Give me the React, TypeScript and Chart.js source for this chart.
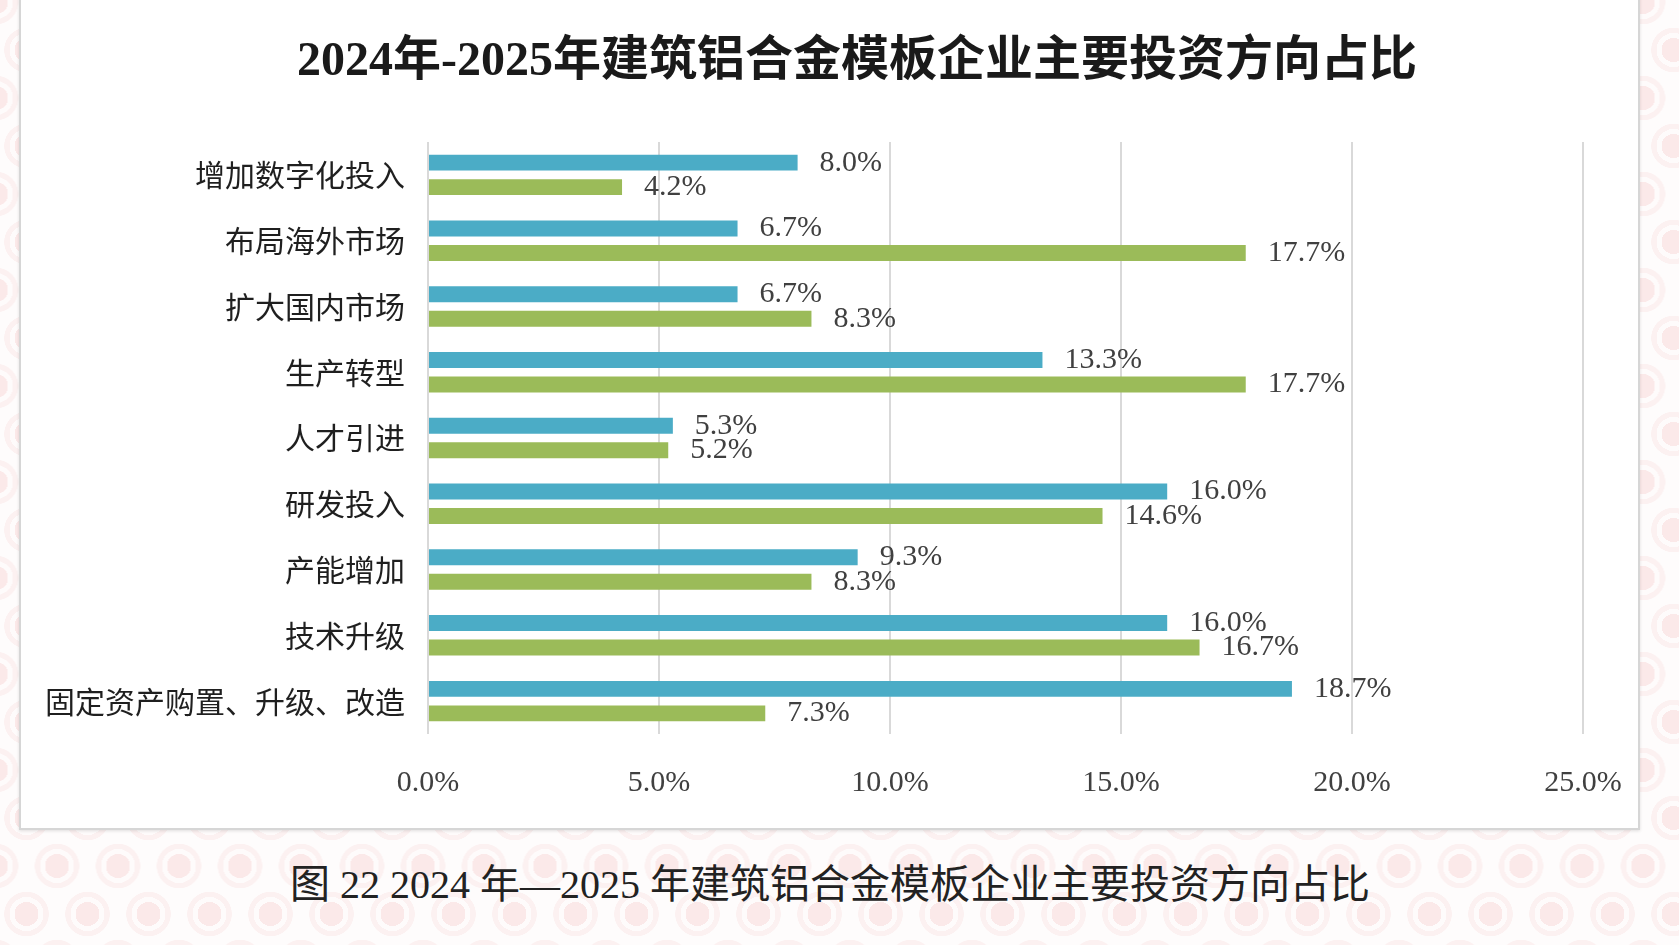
import React, { useEffect, useRef } from "react";
import { Chart, registerables } from "chart.js";

Chart.register(...registerables);

const categories = [
  "增加数字化投入",
  "布局海外市场",
  "扩大国内市场",
  "生产转型",
  "人才引进",
  "研发投入",
  "产能增加",
  "技术升级",
  "固定资产购置、升级、改造",
];
const series2024 = [8.0, 6.7, 6.7, 13.3, 5.3, 16.0, 9.3, 16.0, 18.7];
const series2025 = [4.2, 17.7, 8.3, 17.7, 5.2, 14.6, 8.3, 16.7, 7.3];
const xTicks = [0, 5, 10, 15, 20, 25];

const titleText = "2024年-2025年建筑铝合金模板企业主要投资方向占比";
const captionText = "图 22 2024 年—2025 年建筑铝合金模板企业主要投资方向占比";

const SERIF = '"Liberation Serif", "Noto Sans CJK SC", serif';
const CJK = '"Noto Sans CJK SC", sans-serif';

const valueLabels = {
  id: "valueLabels",
  afterDatasetsDraw(chart: any) {
    const ctx = chart.ctx;
    ctx.save();
    ctx.font = `30px ${SERIF}`;
    ctx.fillStyle = "#404040";
    ctx.textAlign = "left";
    ctx.textBaseline = "middle";
    chart.data.datasets.forEach((ds: any, di: number) => {
      const meta = chart.getDatasetMeta(di);
      meta.data.forEach((bar: any, i: number) => {
        const v = ds.data[i] as number;
        ctx.fillText(v.toFixed(1) + "%", bar.x + 22, bar.y);
      });
    });
    ctx.restore();
  },
};

export default function App() {
  const ref = useRef<HTMLCanvasElement | null>(null);

  useEffect(() => {
    const prevMargin = document.body.style.margin;
    document.body.style.margin = "0";
    if (!ref.current) return;
    const chart = new Chart(ref.current, {
      type: "bar",
      data: {
        labels: categories,
        datasets: [
          {
            label: "2024年",
            data: series2024,
            backgroundColor: "#4BACC6",
            categoryPercentage: 0.745,
            barPercentage: 0.65,
          },
          {
            label: "2025年",
            data: series2025,
            backgroundColor: "#9BBB59",
            categoryPercentage: 0.745,
            barPercentage: 0.65,
          },
        ],
      },
      options: {
        indexAxis: "y",
        animation: false,
        responsive: false,
        maintainAspectRatio: false,
        layout: { padding: { top: 142, right: 57, left: 0, bottom: 0 } },
        plugins: {
          legend: { display: false },
          title: { display: false },
          tooltip: { enabled: false },
        },
        scales: {
          x: {
            min: 0,
            max: 25,
            afterBuildTicks: (s: any) => {
              s.ticks = xTicks.map((v) => ({ value: v }));
            },
            ticks: {
              callback: (v: any) => Number(v).toFixed(1) + "%",
              font: { family: SERIF, size: 30 },
              color: "#404040",
              padding: 31,
            },
            grid: { color: "#d9d9d9", lineWidth: 2, drawTicks: false },
            border: { display: false },
            afterFit: (s: any) => {
              s.height = 96;
              s.paddingLeft = 0;
              s.paddingRight = 0;
            },
          },
          y: {
            ticks: {
              font: { family: CJK, size: 30 },
              color: "#1f1f1f",
              padding: 23,
            },
            grid: { display: false, drawTicks: false },
            border: { display: false },
            afterFit: (s: any) => {
              s.width = 409;
              s.paddingTop = 0;
              s.paddingBottom = 0;
            },
          },
        },
      },
      plugins: [valueLabels],
    });
    return () => {
      chart.destroy();
      document.body.style.margin = prevMargin;
    };
  }, []);

  const ring =
    "radial-gradient(circle at center, #fbe9e9 0 12px, #fefbfb 12px 17px, #fcf1f1 17px 22px, transparent 22.5px)";
  const bg: React.CSSProperties = {
    position: "absolute",
    left: 0,
    top: 0,
    width: 1679,
    height: 945,
    overflow: "hidden",
    backgroundColor: "#fefcfc",
    backgroundImage: `${ring}, ${ring}`,
    backgroundSize: "61px 96px, 61px 96px",
    backgroundPosition: "-4px 2px, 26.5px 50px",
  };

  return (
    <div style={bg}>
      <div
        style={{
          position: "absolute",
          left: 19,
          top: -4,
          width: 1621,
          height: 834,
          background: "#ffffff",
          border: "2px solid #d6d6d6",
          boxSizing: "border-box",
          boxShadow: "0 1px 3px rgba(0,0,0,0.12)",
        }}
      />
      <canvas
        ref={ref}
        width={1621}
        height={830}
        style={{ position: "absolute", left: 19, top: 0, width: 1621, height: 830 }}
      />
      <div
        style={{
          position: "absolute",
          left: 0,
          width: 1714,
          top: 29,
          textAlign: "center",
          fontFamily: SERIF,
          fontWeight: "bold",
          fontSize: 48,
          lineHeight: "60px",
          color: "#1a1a1a",
          whiteSpace: "nowrap",
        }}
      >
        {titleText}
      </div>
      <div
        style={{
          position: "absolute",
          left: 0,
          width: 1660,
          top: 862,
          textAlign: "center",
          fontFamily: SERIF,
          fontSize: 40,
          lineHeight: "46px",
          color: "#222222",
          whiteSpace: "nowrap",
        }}
      >
        {captionText}
      </div>
    </div>
  );
}
